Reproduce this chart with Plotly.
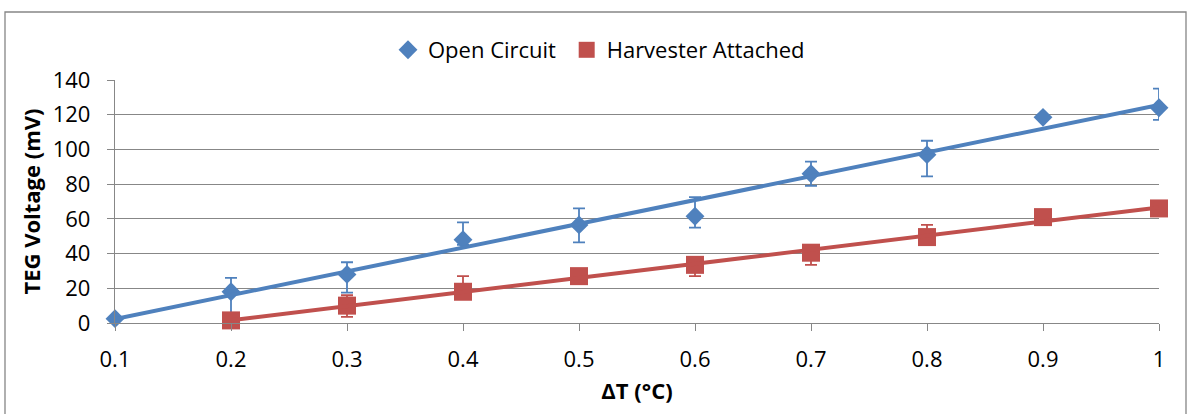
import numpy as np
import plotly.graph_objects as go

# Temperature difference across the TEG (°C)
delta_t = [0.1, 0.2, 0.3, 0.4, 0.5, 0.6, 0.7, 0.8, 0.9, 1.0]
x_tick_text = ["0.1", "0.2", "0.3", "0.4", "0.5", "0.6", "0.7", "0.8", "0.9", "1"]

# Open-circuit TEG voltage (mV) with asymmetric error bars
open_v = [2.5, 18, 28, 48, 56.5, 61.5, 86, 97, 118.5, 124]
open_err_plus = [0, 8, 7, 10, 9.5, 11, 7, 8, 0, 11]
open_err_minus = [0, 15, 10.5, 3, 10, 6.5, 7, 12.5, 0, 7]

# Voltage with the harvester attached (mV)
harv_t = [0.2, 0.3, 0.4, 0.5, 0.6, 0.7, 0.8, 0.9, 1.0]
harv_v = [1.5, 10, 18, 27, 33.5, 40.5, 49.5, 61, 66]
harv_err_plus = [0, 6, 9, 2, 3, 4, 7, 0, 0]
harv_err_minus = [0, 6.5, 3, 2, 6.5, 7, 3, 0, 0]

y_ticks = [0, 20, 40, 60, 80, 100, 120, 140]

BLUE = "#4F81BD"
RED = "#C0504D"
GRID = "#878787"
FONT = "Open Sans"
FS = 22

fig = go.Figure()


def linear_trend(xs, ys):
    slope, intercept = np.polyfit(xs, ys, 1)
    xe = np.array([min(xs), max(xs)])
    return xe, slope * xe + intercept


for xs, ys, ep, em, color, symbol, size, name in [
    (delta_t, open_v, open_err_plus, open_err_minus, BLUE, "diamond", 14.5, "Open Circuit\u00a0"),
    (harv_t, harv_v, harv_err_plus, harv_err_minus, RED, "square", 18, "Harvester Attached"),
]:
    fig.add_trace(go.Scatter(
        x=xs, y=ys, mode="markers", name=name, cliponaxis=False,
        marker=dict(symbol=symbol, size=size, color=color, line=dict(width=0)),
        error_y=dict(type="data", symmetric=False, array=ep, arrayminus=em,
                     color=color, thickness=1.8, width=6),
    ))

for xs, ys, color in [(delta_t, open_v, BLUE), (harv_t, harv_v, RED)]:
    tx, ty = linear_trend(xs, ys)
    fig.add_trace(go.Scatter(
        x=tx, y=ty, mode="lines", showlegend=False, hoverinfo="skip",
        cliponaxis=False, line=dict(color=color, width=4),
    ))

L, R, T, B = 115, 31, 80, 91
W, H = 1190, 414
pw, ph = W - L - R, H - T - B


def px_x(p):
    return (p - L) / pw


def px_y(p):
    return (H - B - p) / ph


# outer chart frame
fig.add_shape(type="rect", xref="paper", yref="paper",
              x0=px_x(5), x1=px_x(1186), y0=px_y(425), y1=px_y(12),
              line=dict(color="#868686", width=1.3), fillcolor="rgba(0,0,0,0)",
              layer="below")

fig.update_layout(
    width=W, height=H,
    margin=dict(l=L, r=R, t=T, b=B),
    paper_bgcolor="white", plot_bgcolor="white",
    font=dict(family=FONT, size=FS, color="black"),
    legend=dict(orientation="h", x=px_x(388), y=px_y(50),
                xanchor="left", yanchor="middle",
                font=dict(family=FONT, size=FS), itemwidth=30,
                bgcolor="rgba(0,0,0,0)"),
    xaxis=dict(
        range=[0.1, 1.0], tickvals=delta_t, ticktext=x_tick_text,
        showgrid=False, zeroline=False,
        showline=True, linecolor=GRID, linewidth=1.3,
        ticks="outside", ticklen=7, tickcolor=GRID, tickwidth=1.3,
        ticklabelstandoff=9,
        title=dict(text="<b>ΔT (°C)</b>", font=dict(family=FONT, size=FS), standoff=12),
    ),
    yaxis=dict(
        range=[0, 140], tickvals=y_ticks,
        showgrid=True, gridcolor=GRID, gridwidth=1.3, zeroline=False,
        showline=True, linecolor=GRID, linewidth=1.3,
        ticks="outside", ticklen=7, tickcolor=GRID, tickwidth=1.3,
        ticklabelstandoff=12,
        title=dict(text="<b>TEG Voltage (mV)</b>", font=dict(family=FONT, size=FS), standoff=6),
    ),
)

fig.write_html("out.html")
